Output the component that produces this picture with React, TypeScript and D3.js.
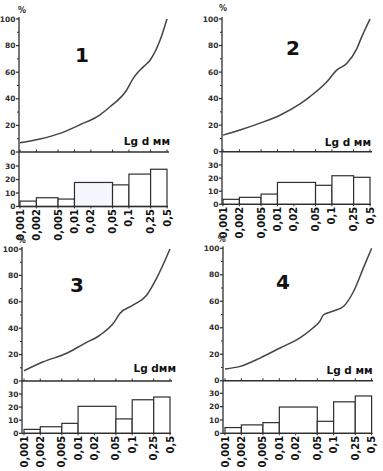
import React from 'react';
import * as d3 from 'd3';

// Fraction boundaries (mm) for the histogram bars
const bins = [0.001, 0.002, 0.005, 0.01, 0.05, 0.1, 0.25, 0.5];
// X tick values and labels
const tickValues = [0.001, 0.002, 0.005, 0.01, 0.02, 0.05, 0.1, 0.25, 0.5];
const tickLabels = ['0,001', '0,002', '0,005', '0,01', '0,02', '0,05', '0,1', '0,25', '0,5'];
const topTicks = [0, 20, 40, 60, 80, 100];
const topMinor = [10, 30, 50, 70, 90];
const barTicks = [0, 10, 20, 30];
const panelNames = ['1', '2', '3', '4'];
const axisTitles = ['Lg d мм', 'Lg d мм', 'Lg dмм', 'Lg d мм'];

// Cumulative curves: [diameter mm, %]
const curve1: [number, number][] = [
  [0.001, 7], [0.00233, 9.8], [0.00543, 14], [0.01265, 20.5], [0.0294, 28],
  [0.045, 34], [0.091, 46.6], [0.12, 55.4], [0.14, 59], [0.184, 64],
  [0.2437, 69], [0.3725, 84], [0.5, 100],
];
const curve2: [number, number][] = [
  [0.001, 12.5], [0.00205, 16.3], [0.00477, 21.5], [0.0111, 27.5], [0.0259, 36],
  [0.0395, 41.5], [0.08, 52.5], [0.1225, 61.5], [0.187, 66.5], [0.285, 77.5],
  [0.352, 86.5], [0.5, 100],
];
const curve3: [number, number][] = [
  [0.001, 7.8], [0.00228, 14.6], [0.00615, 21], [0.0125, 28], [0.0254, 34.8],
  [0.0448, 43.7], [0.0596, 51.3], [0.105, 57.6], [0.185, 65], [0.284, 78], [0.5, 100],
];
const curve4: [number, number][] = [
  [0.001, 8.9], [0.0019, 10.8], [0.0044, 17.1], [0.0103, 24.7], [0.024, 32.3],
  [0.042, 40], [0.056, 45], [0.0645, 49.6], [0.099, 52.6], [0.151, 56],
  [0.23, 67], [0.352, 85], [0.5, 100],
];
const curves = [curve1, curve2, curve3, curve4];

// Histogram bar heights (%) per fraction
const bars1 = [4, 6.5, 5.5, 17.8, 16, 24, 27.6];
const bars2 = [3.8, 5.3, 7.8, 16.7, 14.5, 21.8, 20.6];
const bars3 = [3, 5, 7.6, 20.6, 11, 25.6, 27.7];
const bars4 = [4.3, 6.3, 8, 19.7, 9, 23.6, 28];
const barsAll = [bars1, bars2, bars3, bars4];

const layouts = [
  { ax: 19, x0: 20, x1: 167, y100: 19, y0: 152, b0: 206.5, b30: 166, lineEnd: 169, num: [82, 55], pct: [22, 13], title: [170, 145] },
  { ax: 222, x0: 223, x1: 370, y100: 19, y0: 151.7, b0: 204.3, b30: 165, lineEnd: 372, num: [293, 48], pct: [223, 11], title: [371, 145.5] },
  { ax: 22, x0: 24, x1: 170, y100: 249, y0: 381, b0: 433.3, b30: 394, lineEnd: 172, num: [77, 285], pct: [21.7, 243], title: [176, 372] },
  { ax: 223, x0: 225, x1: 371.6, y100: 248.3, y0: 380.7, b0: 433.3, b30: 393.3, lineEnd: 373, num: [283, 282], pct: [221.7, 242], title: [372.7, 374] },
];

const FONT = 'DejaVu Sans, Verdana, sans-serif';
const INK = '#2e2e2e';

function Panel({ i }: { i: number }) {
  const L = layouts[i];
  const x = d3.scaleLog().domain([0.001, 0.5]).range([L.x0, L.x1]);
  const y = d3.scaleLinear().domain([0, 100]).range([L.y0, L.y100]);
  const yb = d3.scaleLinear().domain([0, 30]).range([L.b0, L.b30]);
  const line = d3
    .line<[number, number]>()
    .x((d) => x(d[0]))
    .y((d) => y(d[1]))
    .curve(d3.curveMonotoneX);
  const bars = barsAll[i];
  return (
    <g>
      {/* vertical axis */}
      <line x1={L.ax} x2={L.ax} y1={L.y100 - 2} y2={L.b0} stroke={INK} strokeWidth={1.3} />
      {topTicks.map((t) => (
        <g key={'t' + t}>
          <line x1={L.ax - 3} x2={L.ax} y1={y(t)} y2={y(t)} stroke={INK} strokeWidth={1.2} />
          <text x={L.ax - 3.5} y={y(t)} dy="0.35em" textAnchor="end" fontSize={7.5} fontWeight="bold" fontFamily={FONT} fill={INK}>
            {t}
          </text>
        </g>
      ))}
      {topMinor.map((t) => (
        <line key={'m' + t} x1={L.ax - 2} x2={L.ax} y1={y(t)} y2={y(t)} stroke={INK} strokeWidth={1} />
      ))}
      <text x={L.pct[0]} y={L.pct[1]} textAnchor="middle" fontSize={8} fontWeight="bold" fontFamily={FONT} fill={INK}>%</text>
      {/* zero line of top chart */}
      <line x1={L.ax} x2={L.lineEnd} y1={L.y0} y2={L.y0} stroke={INK} strokeWidth={1.4} />
      {tickValues.map((t) => (
        <line key={'z' + t} x1={x(t)} x2={x(t)} y1={L.y0} y2={L.y0 - 2.5} stroke={INK} strokeWidth={1} />
      ))}
      {/* cumulative curve */}
      <path d={line(curves[i]) || ''} fill="none" stroke="#444" strokeWidth={1.5} />
      <text x={L.num[0]} y={L.num[1] + 7} textAnchor="middle" fontSize={20} fontWeight="bold" fontFamily={FONT} fill="#111">
        {panelNames[i]}
      </text>
      <text x={L.title[0]} y={L.title[1]} textAnchor="end" fontSize={10.5} fontWeight="bold" fontFamily={FONT} fill="#111">
        {axisTitles[i]}
      </text>
      {/* histogram */}
      {bars.map((v, k) => (
        <rect
          key={'b' + k}
          x={x(bins[k])}
          y={yb(v)}
          width={x(bins[k + 1]) - x(bins[k])}
          height={L.b0 - yb(v)}
          fill={k === 3 && i === 0 ? '#f4f7fb' : '#ffffff'}
          stroke={INK}
          strokeWidth={1.2}
        />
      ))}
      <line x1={L.ax} x2={L.x1 + 1} y1={L.b0} y2={L.b0} stroke={INK} strokeWidth={1.3} />
      {barTicks.map((t) => (
        <g key={'bt' + t}>
          <line x1={L.ax - 3} x2={L.ax} y1={yb(t)} y2={yb(t)} stroke={INK} strokeWidth={1.2} />
          <text x={L.ax - 3.5} y={yb(t)} dy="0.35em" textAnchor="end" fontSize={7.5} fontWeight="bold" fontFamily={FONT} fill={INK}>
            {t}
          </text>
        </g>
      ))}
      {tickValues.map((t, k) => (
        <g key={'xl' + t}>
          <line x1={x(t)} x2={x(t)} y1={L.b0} y2={L.b0 + 2} stroke={INK} strokeWidth={1} />
          <text
            transform={`translate(${x(t)},${L.b0 + 2.5}) rotate(-90)`}
            dy="0.35em"
            textAnchor="end"
            fontSize={10}
            fontWeight="bold"
            fontFamily={FONT}
            fill="#111"
          >
            {tickLabels[k]}
          </text>
        </g>
      ))}
    </g>
  );
}

export default function App() {
  return (
    <svg
      width={383}
      height={471}
      viewBox="0 0 383 471"
      style={{ position: 'absolute', left: 0, top: 0, background: '#fff' }}
    >
      <rect x={0} y={0} width={383} height={471} fill="#fff" />
      {[0, 1, 2, 3].map((i) => (
        <Panel key={i} i={i} />
      ))}
    </svg>
  );
}
